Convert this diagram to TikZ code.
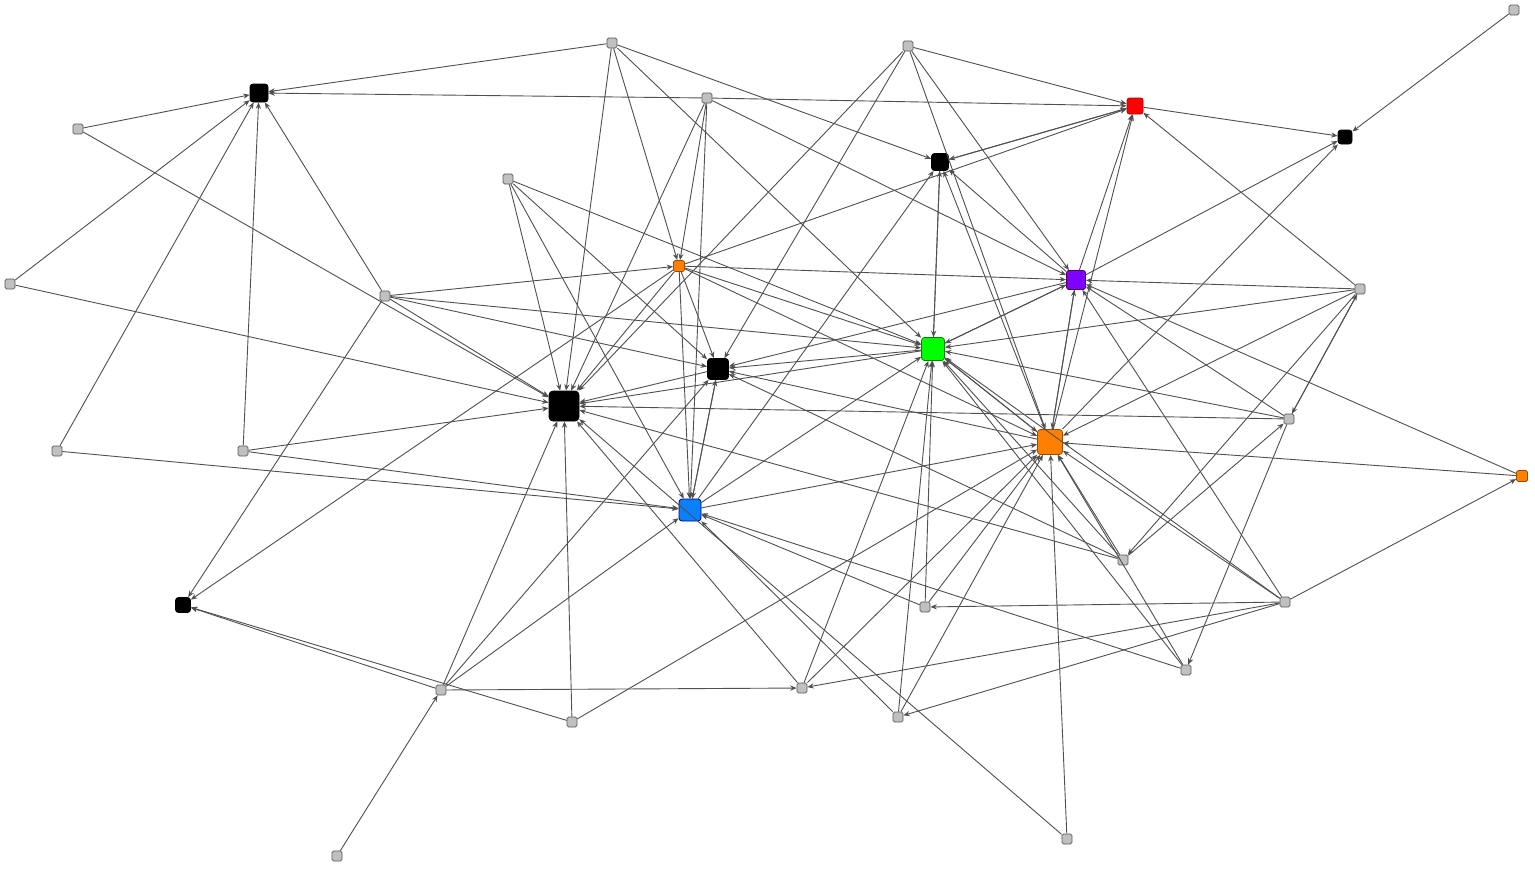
\documentclass[tikz,border=0pt]{standalone}
\usetikzlibrary{arrows.meta}
\definecolor{gnode}{HTML}{C0C0C0}
\definecolor{gline}{HTML}{505050}
\definecolor{cred}{HTML}{FF0000}
\definecolor{cpur}{HTML}{7F00FF}
\definecolor{cgrn}{HTML}{00FF00}
\definecolor{corg}{HTML}{FF8000}
\definecolor{cblu}{HTML}{0A80FF}
\tikzset{
  nd/.style={rectangle, rounded corners=0.8pt, inner sep=0pt, draw=gray!70!black, line width=0.4pt},
  gr/.style={nd, fill=gnode, minimum size=5pt},
  bk/.style={nd, fill=black, draw=black, rounded corners=1.5pt},
  edge/.style={draw=gline, line width=0.45pt, -{Stealth[length=3.2pt,width=2.6pt]}},
}
\begin{document}
\begin{tikzpicture}[x=0.5pt,y=-0.5pt]
\useasboundingbox[fill=white] (0,0) rectangle (1535,868);
% gray nodes
\node[gr] (n1) at (612,43) {};
\node[gr] (n2) at (908,46) {};
\node[gr] (n3) at (1514,10) {};
\node[gr] (n4) at (707,98) {};
\node[gr] (n5) at (78,129) {};
\node[gr] (n6) at (508,179) {};
\node[gr] (n7) at (10,284) {};
\node[gr] (n8) at (385,296) {};
\node[gr] (n9) at (1360,289) {};
\node[gr] (n10) at (1289,419) {};
\node[gr] (n11) at (57,451) {};
\node[gr] (n12) at (243,451) {};
\node[gr] (n13) at (1123,560) {};
\node[gr] (n14) at (925,607) {};
\node[gr] (n15) at (1285,602) {};
\node[gr] (n16) at (1186,670) {};
\node[gr] (n17) at (441,690) {};
\node[gr] (n18) at (802,688) {};
\node[gr] (n19) at (572,722) {};
\node[gr] (n20) at (898,717) {};
\node[gr] (n21) at (1067,839) {};
\node[gr] (n22) at (337,856) {};
% coloured / black nodes
\node[bk, minimum size=9pt] (B1) at (259,93) {};
\node[nd, fill=cred, draw=red!70!black, minimum size=8pt, rounded corners=1.2pt] (R) at (1135,106) {};
\node[bk, minimum size=7pt] (B2) at (1345,137) {};
\node[bk, minimum size=8.5pt] (B3) at (940,162) {};
\node[nd, fill=corg, draw=orange!60!black, minimum size=5.5pt] (O1) at (679,266) {};
\node[nd, fill=cpur, draw=violet!60!black, minimum size=9.5pt, rounded corners=1.2pt] (P) at (1076,280) {};
\node[nd, fill=cgrn, draw=green!50!black, minimum size=11.5pt, rounded corners=1.5pt] (G) at (933,349) {};
\node[bk, minimum size=10.5pt] (B4) at (718,369) {};
\node[bk, minimum size=15pt, rounded corners=2pt] (B5) at (564,406) {};
\node[nd, fill=corg, draw=orange!60!black, minimum size=12.5pt, rounded corners=1.5pt] (O2) at (1050,442) {};
\node[nd, fill=corg, draw=orange!60!black, minimum size=5.5pt] (O3) at (1522,476) {};
\node[nd, fill=cblu, draw=blue!50!black, minimum size=11pt, rounded corners=1.5pt] (Bl) at (690,510) {};
\node[bk, minimum size=7.5pt] (B6) at (183,605) {};
% edges
\foreach \a/\b in {n5/B1, n5/B5, n7/B1, n7/B5, n11/B1, n11/Bl, n12/B1, n12/Bl, n12/B5,
  n8/B1, n8/O1, n8/B4, n8/G, n8/B5, n8/B6,
  n1/B1, n1/B5, n1/O1, n1/B3, n1/G,
  n4/B1, n4/R, n4/B5, n4/O1, n4/Bl, n4/P,
  n6/B5, n6/Bl, n6/B4, n6/G,
  n2/R, n2/B4, n2/B5, n2/P, n2/O2,
  n3/B2, R/B2, P/B2, O2/B2,
  n9/R, n9/P, n9/G, n9/O2, n9/n10, n10/n9, n9/n13, n13/n10,
  B3/R, R/B3, O1/R, P/R, O2/R,
  Bl/B3, G/B3, B3/G, O2/B3, P/B3,
  O1/B5, O1/B4, O1/Bl, O1/B6, O1/P, O1/G, O1/O2,
  n10/B5, n10/G, n10/P, n10/n16,
  n13/B5, n13/B4, n13/G, n13/O2, n16/O2, n16/G, n16/Bl,
  n15/n14, n15/n20, n15/n18, n15/O3, n15/P, n15/O2, n15/G,
  n14/G, n14/O2, n14/Bl,
  n20/O2, n20/G, n20/Bl,
  n21/O2, n21/B5,
  n17/B5, n17/B4, n17/Bl, n17/n18, n17/B6,
  n19/B6, n19/B5, n19/O2, n22/n17,
  n18/G, n18/O2, n18/B5,
  O3/O2, O3/P,
  P/B4, P/G, G/P, P/O2, O2/P,
  G/B5, G/B4, G/O2, O2/G,
  Bl/O2, Bl/B4, B4/Bl, Bl/G, O2/B4, B4/B5}
  \draw[edge] (\a) -- (\b);
\end{tikzpicture}
\end{document}
